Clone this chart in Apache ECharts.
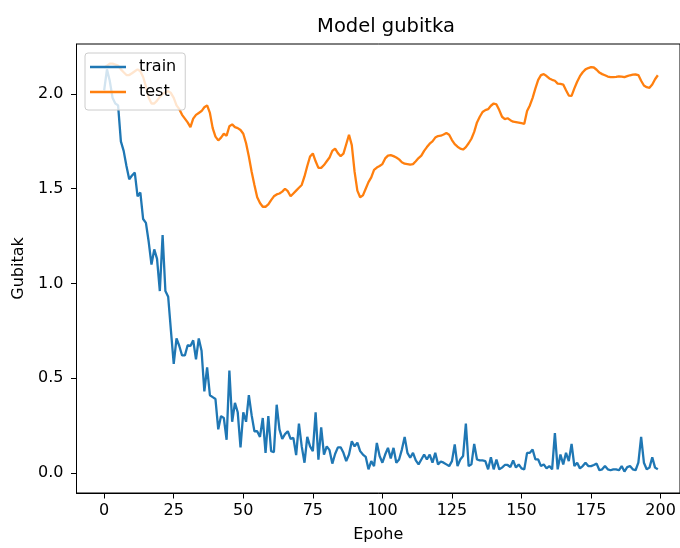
<!DOCTYPE html>
<html>
<head>
<meta charset="utf-8">
<script src="https://cdn.jsdelivr.net/npm/echarts@6/dist/echarts.min.js"></script>
<style>
  html, body { margin: 0; padding: 0; background: #fff; width: 100%; height: 100%; overflow: hidden; }
  #chart { width: 680px; height: 548px; }
</style>
</head>
<body>
<div id="chart"></div>
<script>
// loss per epoch
const trainLoss = [
  2.02, 2.13, 2.07, 1.98, 1.95, 1.94, 1.75, 1.70, 1.62, 1.55,
  1.57, 1.585, 1.46, 1.48, 1.34, 1.32, 1.22, 1.10, 1.18, 1.13,
  0.96, 1.255, 0.96, 0.93, 0.75, 0.575, 0.71, 0.67, 0.62, 0.62,
  0.674, 0.67, 0.70, 0.60, 0.71, 0.645, 0.43, 0.557, 0.41, 0.40,
  0.39, 0.23, 0.30, 0.29, 0.175, 0.54, 0.27, 0.37, 0.32, 0.135,
  0.32, 0.27, 0.41, 0.305, 0.22, 0.22, 0.19, 0.29, 0.106, 0.30,
  0.115, 0.11, 0.36, 0.23, 0.18, 0.205, 0.22, 0.18, 0.185, 0.094,
  0.26, 0.14, 0.054, 0.19, 0.14, 0.115, 0.32, 0.07, 0.24, 0.097,
  0.14, 0.12, 0.049, 0.10, 0.135, 0.135, 0.106, 0.0625, 0.097, 0.167,
  0.14, 0.16, 0.115, 0.097, 0.085, 0.019, 0.0625, 0.036, 0.158, 0.089,
  0.054, 0.097, 0.132, 0.077, 0.132, 0.054, 0.071, 0.123, 0.19, 0.106,
  0.08, 0.106, 0.066, 0.045, 0.071, 0.097, 0.071, 0.097, 0.054, 0.106,
  0.045, 0.06, 0.054, 0.045, 0.036, 0.0625, 0.15, 0.036, 0.071, 0.089,
  0.26, 0.036, 0.045, 0.153, 0.071, 0.066, 0.066, 0.0625, 0.019, 0.083,
  0.019, 0.071, 0.019, 0.028, 0.042, 0.042, 0.031, 0.066, 0.028, 0.045,
  0.024, 0.019, 0.106, 0.106, 0.123, 0.071, 0.071, 0.036, 0.045, 0.024,
  0.036, 0.019, 0.21, 0.019, 0.097, 0.045, 0.106, 0.0625, 0.153, 0.036,
  0.054, 0.024, 0.036, 0.054, 0.036, 0.036, 0.042, 0.049, 0.014, 0.019,
  0.036, 0.019, 0.014, 0.019, 0.019, 0.014, 0.036, 0.007, 0.031, 0.036,
  0.019, 0.014, 0.054, 0.19, 0.054, 0.019, 0.028, 0.083, 0.028, 0.019
];

const testLoss = [
  2.14, 2.15, 2.16, 2.16, 2.155, 2.15, 2.13, 2.115, 2.10, 2.10,
  2.11, 2.12, 2.13, 2.12, 2.09, 2.04, 1.98, 1.95, 1.95, 1.965,
  1.985, 2.00, 2.01, 2.015, 2.005, 1.98, 1.94, 1.92, 1.89, 1.87,
  1.85, 1.825, 1.87, 1.89, 1.90, 1.91, 1.93, 1.94, 1.90, 1.82,
  1.775, 1.755, 1.77, 1.79, 1.78, 1.83, 1.84, 1.825, 1.82, 1.81,
  1.79, 1.74, 1.67, 1.59, 1.52, 1.455, 1.425, 1.405, 1.405, 1.417,
  1.44, 1.46, 1.47, 1.475, 1.485, 1.50, 1.487, 1.46, 1.475, 1.49,
  1.505, 1.52, 1.565, 1.62, 1.67, 1.686, 1.645, 1.61, 1.61, 1.625,
  1.645, 1.665, 1.70, 1.712, 1.688, 1.672, 1.685, 1.735, 1.785, 1.73,
  1.59, 1.49, 1.455, 1.465, 1.50, 1.535, 1.56, 1.60, 1.612, 1.62,
  1.63, 1.66, 1.675, 1.677, 1.672, 1.665, 1.655, 1.64, 1.632, 1.63,
  1.627, 1.63, 1.645, 1.662, 1.675, 1.70, 1.72, 1.738, 1.75, 1.77,
  1.778, 1.78, 1.786, 1.794, 1.785, 1.757, 1.735, 1.722, 1.712, 1.707,
  1.72, 1.74, 1.764, 1.80, 1.85, 1.88, 1.905, 1.915, 1.92, 1.938,
  1.95, 1.945, 1.915, 1.88, 1.868, 1.872, 1.862, 1.854, 1.852, 1.849,
  1.846, 1.843, 1.91, 1.94, 1.98, 2.03, 2.075, 2.10, 2.105, 2.095,
  2.082, 2.075, 2.07, 2.055, 2.054, 2.05, 2.02, 1.992, 1.99, 2.03,
  2.065, 2.094, 2.115, 2.13, 2.137, 2.142, 2.14, 2.128, 2.113, 2.105,
  2.099, 2.092, 2.089, 2.089, 2.09, 2.093, 2.092, 2.089, 2.094, 2.099,
  2.102, 2.103, 2.10, 2.07, 2.045, 2.036, 2.033, 2.05, 2.078, 2.099
];

const xTicks = [0, 25, 50, 75, 100, 125, 150, 175, 200];
const yTicks = [0, 0.5, 1.0, 1.5, 2.0];

const font = 'DejaVu Sans';
const toPairs = arr => arr.map((v, i) => [i, v]);

const chart = echarts.init(document.getElementById('chart'), null, { renderer: 'canvas' });
chart.setOption({
  animation: false,
  backgroundColor: '#fff',
  textStyle: { fontFamily: font },
  title: {
    text: 'Model gubitka',
    left: 381,
    top: 12,
    textAlign: 'center',
    textStyle: { fontFamily: font, fontSize: 19.5, fontWeight: 'normal', color: '#000' }
  },
  legend: {
    left: 85,
    top: 53,
    orient: 'vertical',
    icon: 'rect',
    itemWidth: 36,
    itemHeight: 2.4,
    itemGap: 9,
    padding: [6, 9, 10, 5],
    backgroundColor: 'rgba(255,255,255,0.8)',
    borderColor: '#cccccc',
    borderWidth: 1,
    borderRadius: 3,
    textStyle: { fontFamily: font, fontSize: 16, color: '#000', padding: [0, 0, 0, 8] },
    data: ['train', 'test']
  },
  grid: {
    left: 76.5,
    right: 0,
    top: 44,
    bottom: 49,
    show: true,
    borderColor: '#000',
    borderWidth: 1,
    containLabel: false
  },
  xAxis: {
    type: 'value',
    min: -9.95,
    max: 206.97,
    name: 'Epohe',
    nameLocation: 'middle',
    nameGap: 34,
    nameTextStyle: { fontFamily: font, fontSize: 16, color: '#000' },
    axisLine: { show: true, onZero: false, lineStyle: { color: '#000', width: 1 } },
    axisTick: { show: true, length: 5.5, customValues: xTicks, lineStyle: { color: '#000' } },
    axisLabel: {
      customValues: xTicks,
      margin: 10,
      fontFamily: font, fontSize: 16, color: '#000'
    },
    splitLine: { show: false }
  },
  yAxis: {
    type: 'value',
    min: -0.106,
    max: 2.264,
    name: 'Gubitak',
    nameLocation: 'middle',
    nameGap: 50,
    nameRotate: 90,
    nameTextStyle: { fontFamily: font, fontSize: 16, color: '#000' },
    axisLine: { show: true, onZero: false, lineStyle: { color: '#000', width: 1 } },
    axisTick: { show: true, length: 5.5, customValues: yTicks, lineStyle: { color: '#000' } },
    axisLabel: {
      customValues: yTicks,
      margin: 13,
      fontFamily: font, fontSize: 16, color: '#000',
      formatter: v => v.toFixed(1)
    },
    splitLine: { show: false }
  },
  series: [
    {
      name: 'train',
      type: 'line',
      data: toPairs(trainLoss),
      symbol: 'none',
      lineStyle: { color: '#1f77b4', width: 2.3 },
      itemStyle: { color: '#1f77b4' }
    },
    {
      name: 'test',
      type: 'line',
      data: toPairs(testLoss),
      symbol: 'none',
      lineStyle: { color: '#ff7f0e', width: 2.3 },
      itemStyle: { color: '#ff7f0e' }
    }
  ]
});
</script>
</body>
</html>
